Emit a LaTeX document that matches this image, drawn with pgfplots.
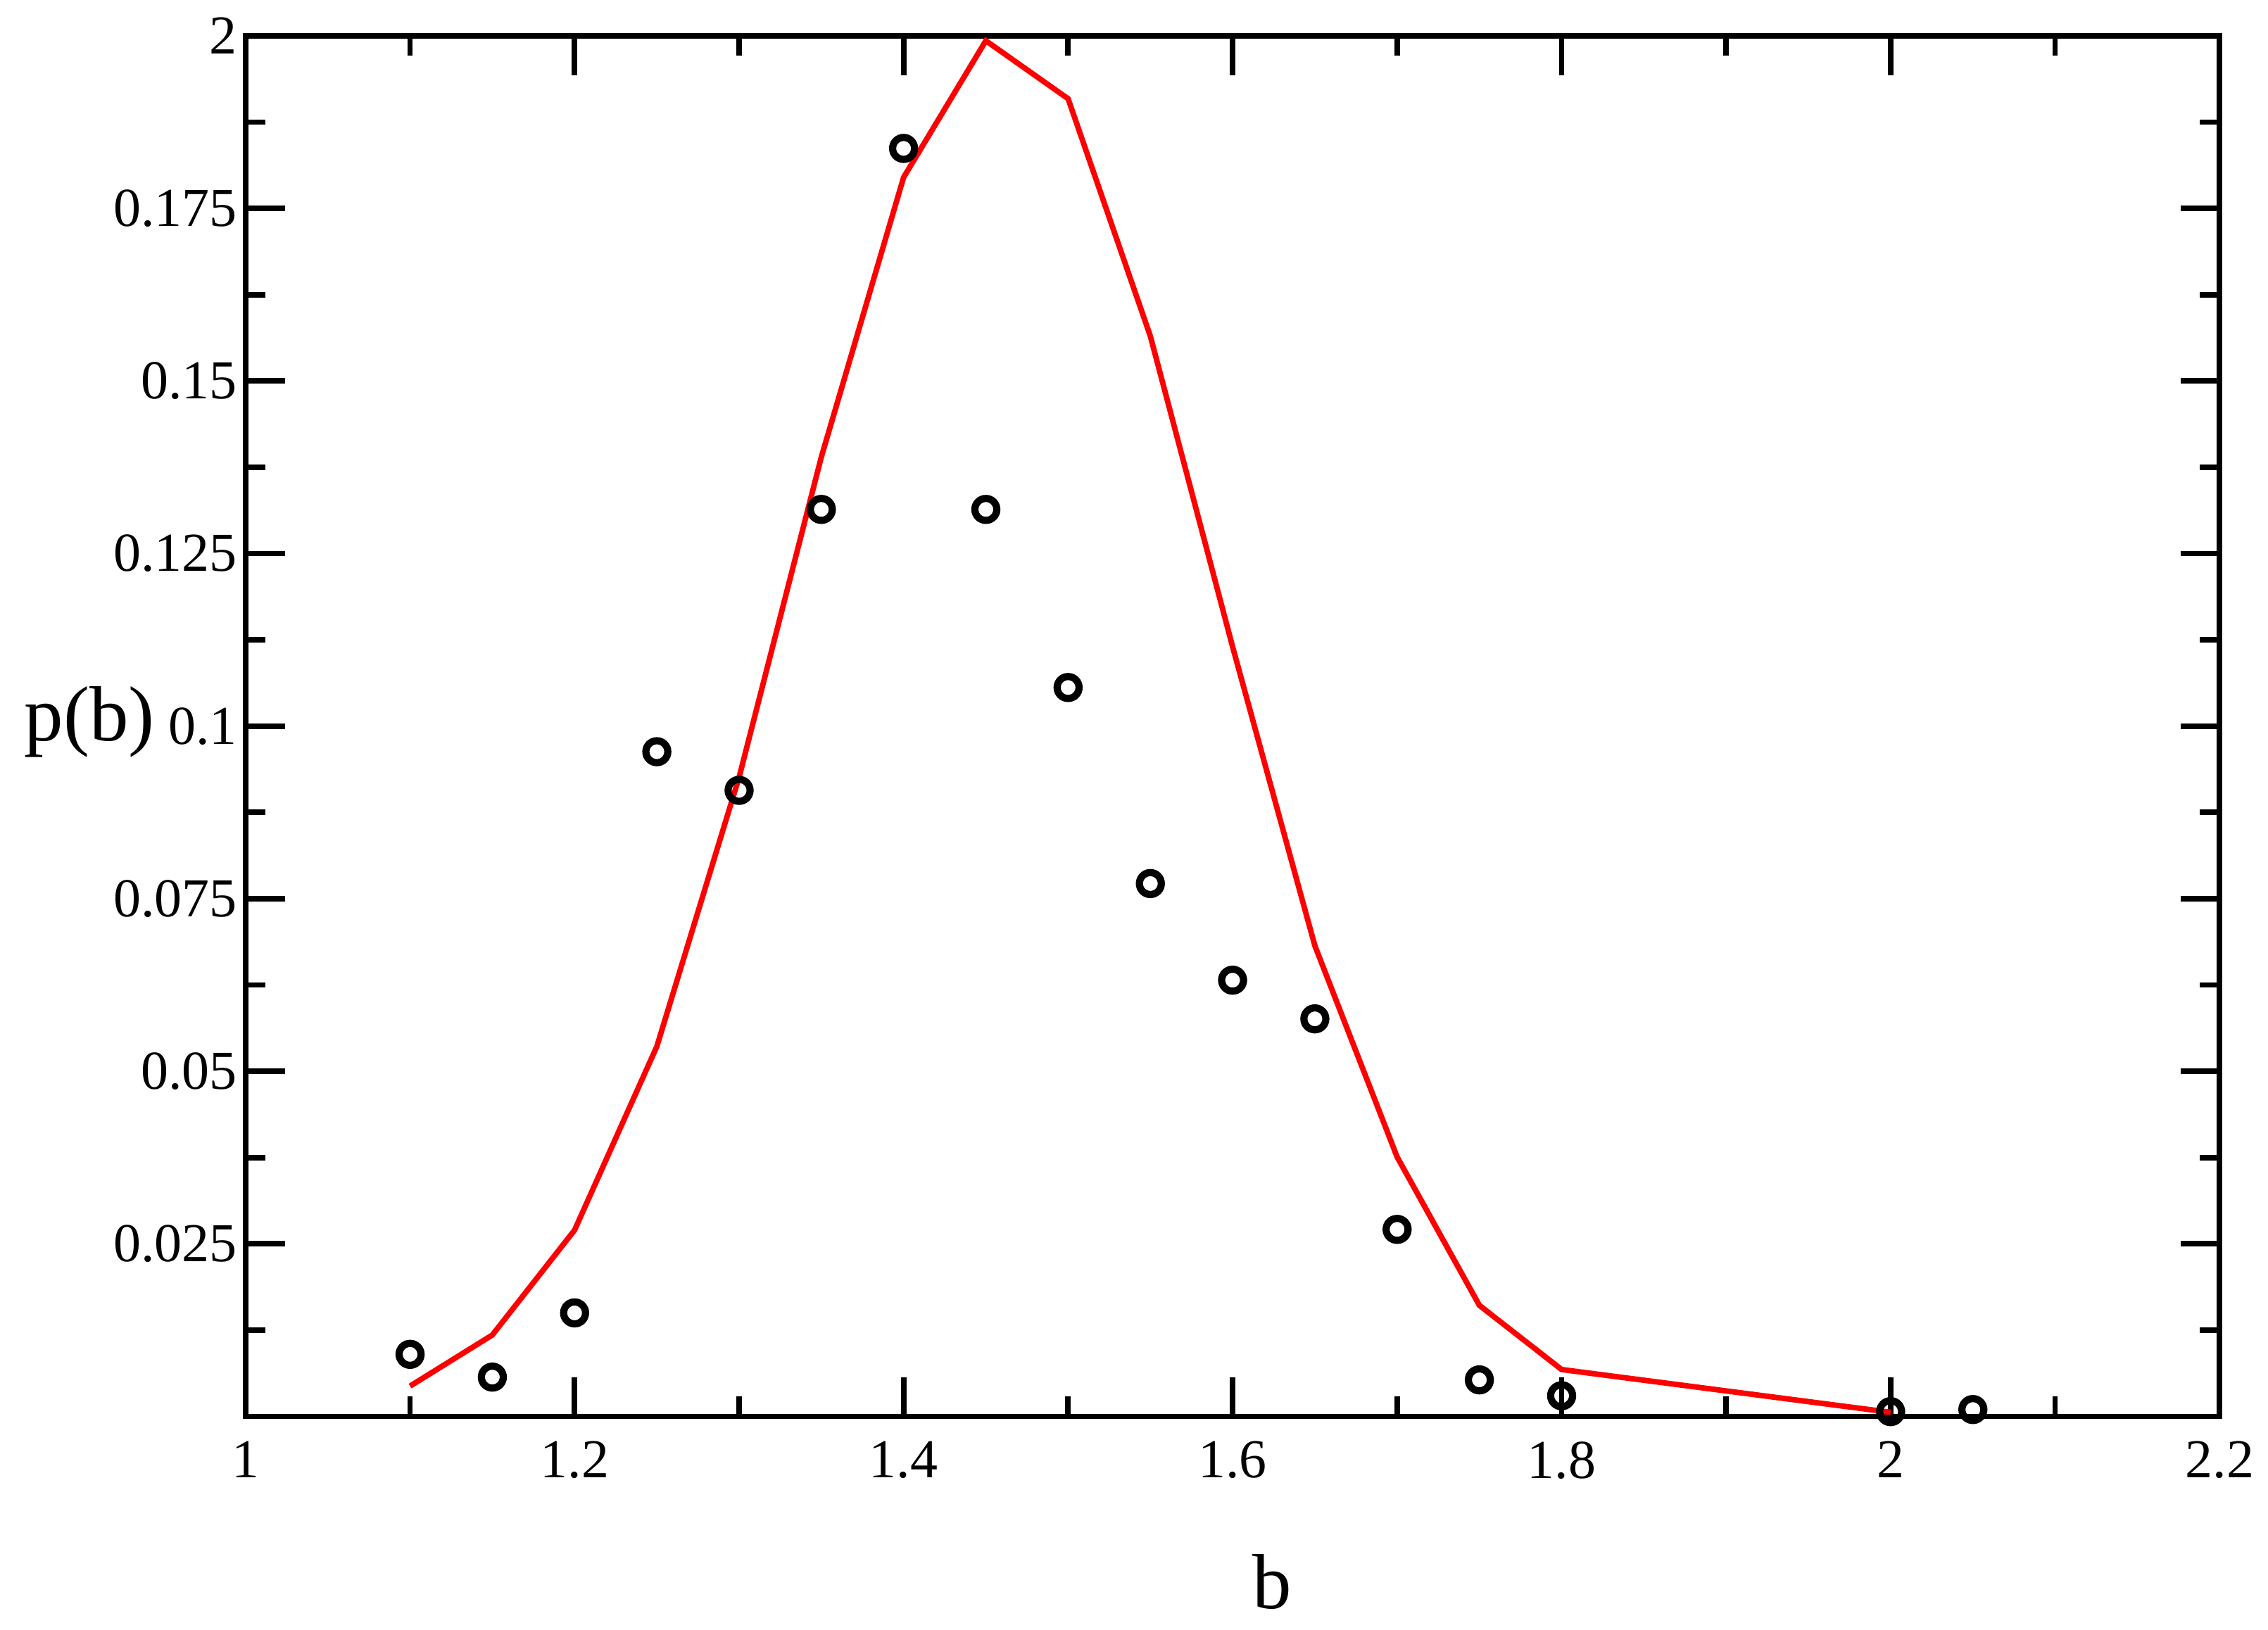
\documentclass[border=0pt]{standalone}
\usepackage{fontspec}
\setmainfont{Liberation Serif}
\usepackage{pgfplots}
\pgfplotsset{compat=1.18}

% circles: measured histogram; red line: model
\pgfplotstableread{
b     p
1.10  0.0090
1.15  0.0057
1.20  0.0150
1.25  0.0963
1.30  0.0907
1.35  0.1314
1.40  0.1837
1.45  0.1314
1.50  0.1056
1.55  0.0772
1.60  0.0632
1.65  0.0576
1.70  0.0271
1.75  0.0053
1.80  0.0030
2.00  0.0007
2.05  0.0010
}\measured

\pgfplotstableread{
b     p
1.10  0.0044
1.15  0.0118
1.20  0.0270
1.25  0.0536
1.30  0.0926
1.35  0.1390
1.40  0.1795
1.45  0.1993
1.50  0.1909
1.55  0.1565
1.60  0.1115
1.65  0.0682
1.70  0.0376
1.75  0.0161
1.80  0.0068
2.00  0.0006
}\model

\begin{document}
\begin{tikzpicture}
\begin{axis}[
    scale only axis,
    width=467.5pt, height=327pt,
    xmin=1, xmax=2.2,
    ymin=0, ymax=0.2,
    clip=false,
    font=\fontsize{13}{15}\selectfont,
    /pgf/number format/assume math mode=true,
    xtick={1,1.2,1.4,1.6,1.8,2,2.2},
    xticklabels={1,1.2,1.4,1.6,1.8,2,2.2},
    minor xtick={1.1,1.3,1.5,1.7,1.9,2.1},
    ytick={0.025,0.05,0.075,0.1,0.125,0.15,0.175,0.2},
    yticklabels={0.025,0.05,0.075,0.1,0.125,0.15,0.175,2},
    minor ytick={0.0125,0.0375,0.0625,0.0875,0.1125,0.1375,0.1625,0.1875},
    tick pos=both,
    tick align=inside,
    major tick length=9.3pt,
    minor tick length=4.7pt,
    every tick/.style={black, line width=1.3pt},
    axis line style={line width=1.3pt},
    xticklabel style={yshift=-2.4pt},
    yticklabel style={xshift=1.5pt},
    xlabel={b},
    ylabel={p(b)},
    xlabel style={font=\fontsize{18.5}{22}\selectfont, at={(axis description cs:0.52,-0.12)}, anchor=center},
    ylabel style={font=\fontsize{18.5}{22}\selectfont, at={(axis description cs:-0.079,0.503)}, anchor=center, rotate=-90},
]
\path (axis description cs:-0.1244,-0.1544) rectangle (axis description cs:1.0242,1.026);
\addplot[red, line width=1.3pt, no marks] table[x=b, y=p] {\model};
\addplot[only marks, mark=o, mark size=2.6pt, mark options={black, line width=1.7pt}] table[x=b, y=p] {\measured};
\end{axis}
\end{tikzpicture}
\end{document}
